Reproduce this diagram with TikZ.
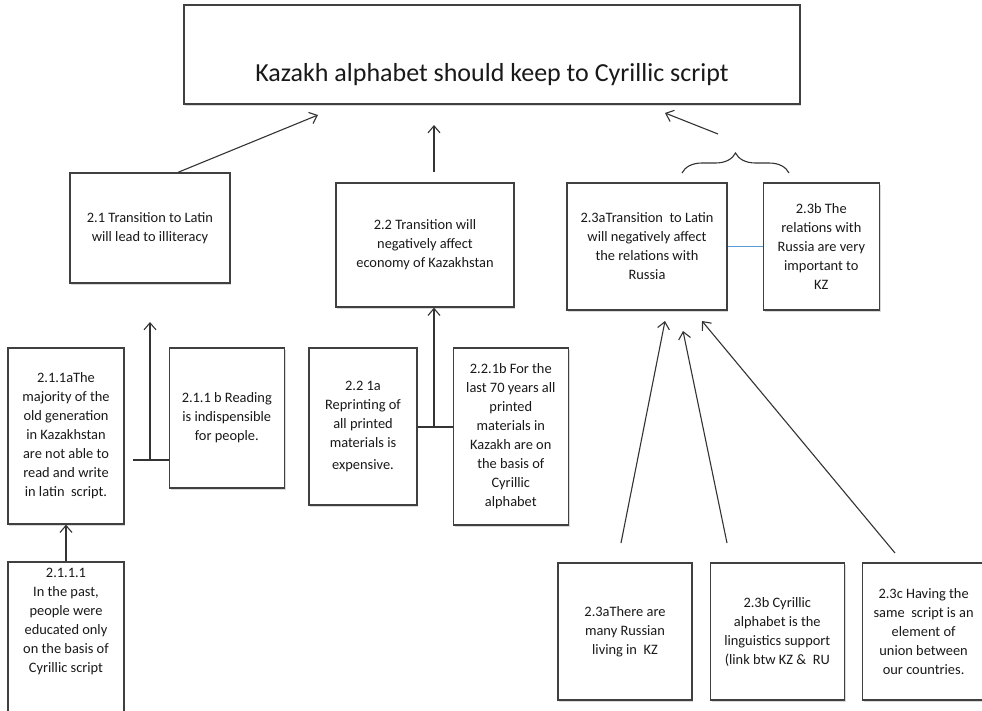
\documentclass[tikz,border=0pt]{standalone}
\usepackage{fontspec}
\setmainfont{Carlito}
\usetikzlibrary{calc, positioning, arrows.meta, shadows, decorations.pathreplacing}
\definecolor{linkblue}{RGB}{91,155,213}
\tikzset{
    claim/.style={rectangle, draw=black!75, line width=1.3pt, fill=white, align=center, inner sep=2pt, text=black!90, font=\fontsize{14.4}{19}\selectfont, drop shadow={shadow xshift=1.2pt, shadow yshift=-1.5pt, opacity=0.3}},
    thesis/.style={claim, line width=2pt, font=\fontsize{26}{31}\selectfont},
    arrow/.style={-{Straight Barb[length=7pt, width=12pt]}, draw=black!80, line width=1.1pt},
    joint/.style={draw=black!80, line width=1.1pt},
    link/.style={draw=linkblue, line width=1.1pt},
    bracket/.style={draw=black!80, line width=1.1pt, decorate, decoration={brace, amplitude=20pt, aspect=0.5}}
}

\begin{document}
\begin{tikzpicture}[x=1pt, y=-1pt, node distance=35pt]
        \useasboundingbox (0,0) rectangle (982,710);

        \node[thesis, minimum width=616pt, minimum height=99pt, text height=59pt, text depth=6pt] (Thesis) at (492,54.5) {Kazakh alphabet should keep to Cyrillic script};

        \node[claim, minimum width=160pt, minimum height=110pt] (R21) at (150,228) {2.1 Transition to Latin\\will lead to illiteracy};
        \node[claim, minimum width=178pt, minimum height=124pt] (R22) at (425,245) {2.2 Transition will\\negatively affect\\economy of Kazakhstan};
        \node[claim, minimum width=160pt, minimum height=127pt] (R23a) at (647,246.5) {2.3aTransition\ \ to Latin\\will negatively affect\\the relations with\\Russia};
        \node[claim, minimum width=116pt, minimum height=127pt, right=of R23a] (R23b) {2.3b The\\relations with\\Russia are very\\important to\\KZ};

        \node[claim, minimum width=116pt, minimum height=176pt] (R211a) at (66,436) {2.1.1aThe\\majority of the\\old generation\\in Kazakhstan\\are not able to\\read and write\\in latin\ \ script.};
        \node[claim, minimum width=115pt, minimum height=140pt, right=44pt of R211a.north east, anchor=north west] (R211b) {2.1.1 b Reading\\is indispensible\\for people.};
        \node[claim, minimum width=116pt, minimum height=160pt, text depth=43pt] (R2111) at (66,642) {2.1.1.1\\In the past,\\people were\\educated only\\on the basis of\\Cyrillic script};

        \node[claim, minimum width=108pt, minimum height=157pt] (R221a) at (363,426.5) {2.2 1a\\Reprinting of\\all printed\\materials is\\[3pt]expensive.};
        \node[claim, minimum width=115pt, minimum height=177pt, right=35pt of R221a.north east, anchor=north west] (R221b) {2.2.1b For the\\last 70 years all\\printed\\materials in\\Kazakh are on\\the basis of\\Cyrillic\\alphabet};

        \node[claim, minimum width=134pt, minimum height=137pt] (S1) at (625,631.5) {2.3aThere are\\many Russian\\living in\ \ KZ};
        \node[claim, minimum width=134pt, minimum height=137pt, right=17pt of S1] (S2) {2.3b Cyrillic\\alphabet is the\\linguistics support\\(link btw KZ \&\ \ RU};
        \node[claim, minimum width=122pt, minimum height=137pt, right=17pt of S2] (S3) {2.3c Having the\\same\ \ script is an\\element of\\union between\\our countries.};

        % free ends
        \coordinate (T21) at (318,115);
        \coordinate (T22) at (434,125);
        \coordinate (T23) at (665,113);
        \coordinate (B23) at (718,134);
        \coordinate (BrL) at (682,173);
        \coordinate (BrR) at (789,173);
        \coordinate (J21s) at (133,460);
        \coordinate (J21) at (150,460);
        \coordinate (T211) at (150,322);
        \coordinate (J22) at (434,427);
        \coordinate (S1t) at (621,543);
        \coordinate (S2t) at (727,543);
        \coordinate (S3t) at (895,553);
        \coordinate (E1) at (665,321);
        \coordinate (E2) at (683,331);
        \coordinate (E3) at (702,321);

        \draw[arrow] ($(R21.north)+(28,0)$) -- (T21);
        \draw[arrow] ($(R22.north)+(9,-10)$) -- (T22);
        \draw[bracket] (BrL) -- (BrR);
        \draw[arrow] (B23) -- (T23);
        \draw[link] (R23a) -- (R23b);

        \draw[joint] (J21s) -- (R211b.west |- J21);
        \draw[arrow] (J21) -- (T211);
        \draw[arrow] (R2111) -- (R211a);

        \draw[joint] (R221a.east |- J22) -- (R221b.west |- J22);
        \draw[arrow] (J22) -- (J22 |- R22.south);

        % supports of 2.3a
        \draw[arrow] (S1t) -- (E1);
        \draw[arrow] (S2t) -- (E2);
        \draw[arrow] (S3t) -- (E3);
    \end{tikzpicture}
\end{document}
